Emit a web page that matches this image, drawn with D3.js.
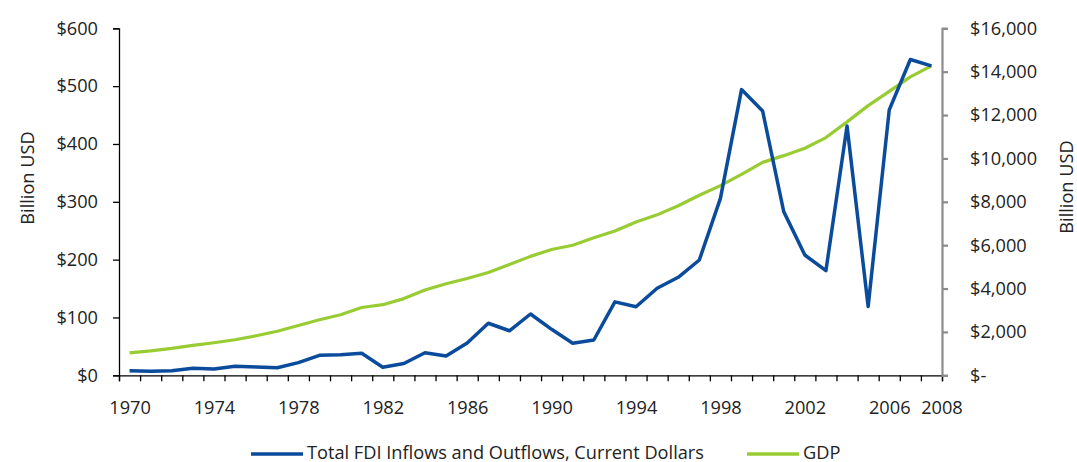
<!DOCTYPE html>
<html>
<head>
<meta charset="utf-8">
<script src="https://cdn.jsdelivr.net/npm/d3@7/dist/d3.min.js"></script>
<style>
  html, body { margin: 0; padding: 0; background: #fff; }
  svg { display: block; }
  svg text { font-family: "Open Sans", "Noto Sans", sans-serif; fill: #222; }
</style>
</head>
<body>
<svg id="chart" width="1077" height="462"></svg>
<script>
// Years on the category axis
const years = d3.range(1970, 2009);

// Total FDI inflows and outflows, current dollars (billion USD)
const fdi = [8, 7, 8, 12, 11, 15.5, 14.5, 13, 22, 34.6, 35.6, 38,
             14, 20.5, 39, 33.4, 56, 90, 77, 106, 79.5, 55.3, 61,
             127, 118.6, 150.5, 169.5, 199.4, 306, 494, 457, 283,
             208, 181, 431, 119, 459, 546, 535];

// GDP (billion USD)
const gdp = [1038, 1127, 1238, 1382, 1500, 1638, 1825, 2031, 2295, 2563,
             2789, 3128, 3255, 3537, 3933, 4220, 4463, 4740, 5104, 5484,
             5803, 5996, 6338, 6657, 7072, 7398, 7817, 8304, 8747, 9268,
             9817, 10128, 10470, 10961, 11686, 12434, 13095, 13758, 14264];

// Axis ticks and labels
const yearLabels = [1970, 1974, 1978, 1982, 1986, 1990, 1994, 1998, 2002, 2006, 2008];
const leftTicks = [0, 100, 200, 300, 400, 500, 600];
const rightTicks = [0, 2000, 4000, 6000, 8000, 10000, 12000, 14000, 16000];

const seriesNames = ["Total FDI Inflows and Outflows, Current Dollars", "GDP"];
const colors = ["#0b4b9b", "#99cc33"];

const svg = d3.select("#chart");
const plotLeft = 119, plotRight = 942, plotTop = 28.3, plotBottom = 375.3;
const fontSize = 18.2;
const fontFamily = '"Open Sans", "Noto Sans", sans-serif';

// Category positions sit in the middle of each year's slot
const x = d3.scaleLinear().domain([1969.5, 2008.5]).range([plotLeft, plotRight]);
const yL = d3.scaleLinear().domain([0, 600]).range([plotBottom, plotTop]);
const yR = d3.scaleLinear().domain([0, 16000]).range([plotBottom, plotTop]);

// Lines first, axes drawn over them
const lineL = d3.line().x((d, i) => x(years[i])).y(d => yL(d));
const lineR = d3.line().x((d, i) => x(years[i])).y(d => yR(d));

svg.append("path").datum(gdp).attr("d", lineR)
  .attr("fill", "none").attr("stroke", colors[1]).attr("stroke-width", 3.2)
  .attr("stroke-linejoin", "round");
svg.append("path").datum(fdi).attr("d", lineL)
  .attr("fill", "none").attr("stroke", colors[0]).attr("stroke-width", 3.5)
  .attr("stroke-linejoin", "round");

function styleText(g) {
  g.attr("font-family", fontFamily).attr("font-size", fontSize);
  g.selectAll("text").attr("fill", "#222");
}

// Bottom axis: tick marks on slot boundaries
const xTicks = svg.append("g").attr("transform", `translate(0,${plotBottom})`)
  .call(d3.axisBottom(x).tickValues(d3.range(1969.5, 2009, 1)).tickSize(6).tickFormat(""));
xTicks.selectAll("line").attr("stroke", "#000").attr("stroke-width", 1.3);
xTicks.select(".domain").attr("stroke", "#000").attr("stroke-width", 1.3);

// Bottom axis labels, centred on categories
const xLab = svg.append("g").attr("transform", `translate(0,${plotBottom})`)
  .call(d3.axisBottom(x).tickValues(yearLabels).tickSize(0).tickPadding(26).tickFormat(d3.format("d")));
xLab.select(".domain").remove();
styleText(xLab);
xLab.selectAll("text").attr("dx", d => d === 2008 ? 10 : 0);

// Left axis
const gL = svg.append("g").attr("transform", `translate(${plotLeft},0)`)
  .call(d3.axisLeft(yL).tickValues(leftTicks).tickSize(6).tickPadding(15).tickFormat(d => "$" + d));
gL.select(".domain").attr("stroke", "#000").attr("stroke-width", 1.3);
gL.selectAll("line").attr("stroke", "#000").attr("stroke-width", 1.3);
styleText(gL);

// Right axis
const gR = svg.append("g").attr("transform", `translate(${plotRight},0)`)
  .call(d3.axisRight(yR).tickValues(rightTicks).tickSize(6).tickPadding(22)
    .tickFormat(d => d === 0 ? "$-" : "$" + d3.format(",")(d)));
gR.select(".domain").attr("stroke", "#8c8c8c").attr("stroke-width", 2.2);
gR.selectAll("line").attr("stroke", "#8c8c8c").attr("stroke-width", 2.2);
styleText(gR);

// Axis titles
svg.append("text").attr("transform", "translate(34,178) rotate(-90)")
  .attr("text-anchor", "middle").attr("font-size", fontSize)
  .text("Billion USD");
svg.append("text").attr("transform", "translate(1073,187) rotate(-90)")
  .attr("text-anchor", "middle").attr("font-size", fontSize)
  .text("Billion USD");

// Legend
const legendX = [251, 747];
const legend = svg.append("g");
seriesNames.forEach((name, i) => {
  legend.append("line").attr("x1", legendX[i]).attr("x2", legendX[i] + 52)
    .attr("y1", 454).attr("y2", 454)
    .attr("stroke", colors[i]).attr("stroke-width", 3.5);
  legend.append("text").attr("x", legendX[i] + 56).attr("y", 458.5)
    .attr("font-size", fontSize)
    .text(name);
});
</script>
</body>
</html>
